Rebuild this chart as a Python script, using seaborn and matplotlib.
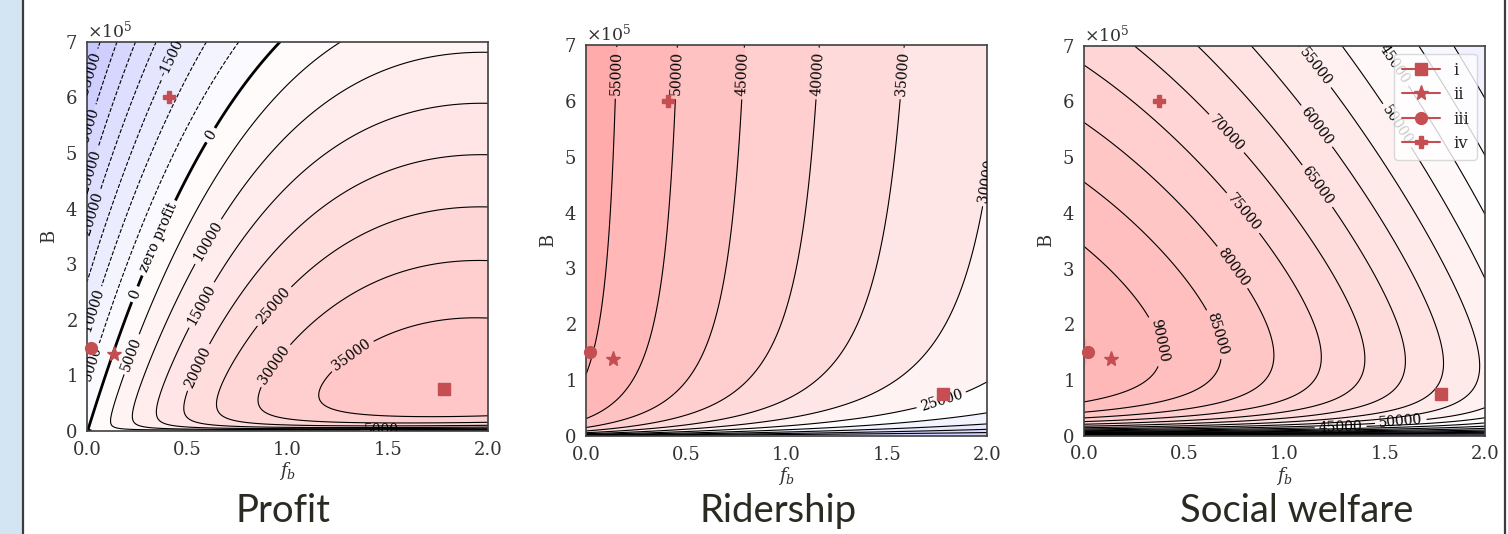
import numpy as np
import matplotlib
matplotlib.use("Agg")
import matplotlib.pyplot as plt
import seaborn as sns
from matplotlib.colors import LinearSegmentedColormap, Normalize
from matplotlib.ticker import ScalarFormatter, MultipleLocator, FormatStrFormatter
from matplotlib.patches import Rectangle
from matplotlib.lines import Line2D

sns.set_style("white")
plt.rcParams["font.family"] = ["DejaVu Serif"]
plt.rcParams["mathtext.fontset"] = "dejavuserif"
plt.rcParams["axes.edgecolor"] = "0.25"
plt.rcParams["axes.linewidth"] = 1.2

# ---------------- model parameters (B measured in units of 1e5) ----------------
# ridership
RID_SCALE = 58800
RID_FARE = 0.29
RID_WAIT = 0.0716
RID_WAIT_FARE = 1.38
RID_POW = 0.7
# operator profit
PRO_SCALE = 66930
PRO_FARE = 0.50
PRO_WAIT = 0.05
PRO_WAIT_FARE = 0.028
PRO_POW = 0.8
COST_PER_B = 5600
# social welfare
SW_BASE = 113500
SW_LIN = 11900
SW_QUAD = 5000
SW_WAIT = 0.132
SW_WAIT_FARE = 0.015
SW_POW = 0.8
SW_COST_PER_B = 5300

# ---------------- highlighted policies ----------------
point_names = ["i", "ii", "iii", "iv"]
point_markers = ["s", "*", "o", "P"]
point_sizes = [9, 11, 8.5, 8.5]
point_fb = [1.78, 0.135, 0.02, 0.41]
point_B = [0.75e5, 1.38e5, 1.5e5, 6.0e5]
point_fb_welfare = [1.78, 0.135, 0.02, 0.375]

panel_titles = ["Profit", "Ridership", "Social welfare"]
x_ticks = [0.0, 0.5, 1.0, 1.5, 2.0]

profit_lines = list(range(-35000, 35001, 5000))
ridership_lines = list(range(5000, 55001, 5000))
welfare_lines = list(range(0, 90001, 5000))

profit_fill = list(range(-40000, 40001, 5000))
ridership_fill = list(range(0, 60001, 5000))
welfare_fill = list(range(-5000, 95001, 5000))

# inline label anchors: (level, [(f_b, B), ...], text)
profit_labels = [
    (-35000, [(0.045, 6.35e5)], None),
    (-30000, [(0.04, 5.35e5)], None),
    (-25000, [(0.03, 4.6e5)], None),
    (-20000, [(0.045, 3.85e5)], None),
    (-15000, [(0.41, 6.8e5)], None),
    (-10000, [(0.05, 2.1e5)], None),
    (-5000, [(0.05, 1.15e5)], None),
    (0, [(0.23, 2.47e5), (0.59, 5.37e5)], None),
    (0, [(0.34, 3.5e5)], "zero profit"),
    (5000, [(0.21, 1.4e5), (1.47, 0.04e5)], None),
    (10000, [(0.56, 3.49e5)], None),
    (15000, [(0.54, 2.32e5)], None),
    (20000, [(0.51, 1.22e5)], None),
    (25000, [(0.9, 2.35e5)], None),
    (30000, [(0.9, 1.27e5)], None),
    (35000, [(1.3, 1.45e5)], None),
]
ridership_labels = [
    (55000, [(0.145, 6.5e5)], None),
    (50000, [(0.41, 6.5e5)], None),
    (45000, [(0.72, 6.5e5)], None),
    (40000, [(1.1, 6.5e5)], None),
    (35000, [(1.53, 6.5e5)], None),
    (30000, [(1.96, 5.5e5)], None),
    (25000, [(1.78, 0.55e5)], None),
]
welfare_labels = [
    (90000, [(0.45, 1.77e5)], None),
    (85000, [(0.69, 1.86e5)], None),
    (80000, [(0.75, 3.05e5)], None),
    (75000, [(0.80, 4.02e5)], None),
    (70000, [(0.73, 5.49e5)], None),
    (65000, [(1.14, 4.42e5)], None),
    (60000, [(1.14, 5.5e5)], None),
    (55000, [(1.13, 6.56e5)], None),
    (50000, [(1.53, 5.5e5), (1.58, 0.24e5)], None),
    (45000, [(1.5, 6.56e5), (1.28, 0.13e5)], None),
]


def ridership(f, b):
    return RID_SCALE * np.exp(-RID_FARE * f - RID_WAIT * (1 + RID_WAIT_FARE * f) * b ** (-RID_POW))


def profit(f, b):
    demand = PRO_SCALE * np.exp(-PRO_FARE * f - (PRO_WAIT + PRO_WAIT_FARE * f) * b ** (-PRO_POW))
    return f * demand - COST_PER_B * b


def welfare(f, b):
    gross = (SW_BASE - SW_LIN * f - SW_QUAD * f ** 2)
    return gross * np.exp(-(SW_WAIT + SW_WAIT_FARE * f) * b ** (-SW_POW)) - SW_COST_PER_B * b


def snap_to_level(cs, level, spot):
    """Closest vertex of the given contour level to an anchor point."""
    idx = list(cs.levels).index(float(level))
    segs = [s for s in cs.allsegs[idx] if len(s)]
    if not segs:
        return None
    pts = np.concatenate(segs)
    d = ((pts[:, 0] - spot[0]) / 2.0) ** 2 + ((pts[:, 1] - spot[1]) / 7e5) ** 2
    return tuple(pts[np.argmin(d)])


fb = np.linspace(0.0, 2.0, 401)
b_units = np.unique(np.concatenate([np.geomspace(0.004, 1.0, 500),
                                    np.linspace(0.0, 7.0, 701)[1:]]))
F, BU = np.meshgrid(fb, b_units)
BG = BU * 1e5

# pale blue-white-red palette
base = plt.get_cmap("bwr")(np.linspace(0, 1, 256))[:, :3]
soft = LinearSegmentedColormap.from_list("soft_bwr", 1 - 0.35 * (1 - base))

red = sns.color_palette("deep")[3]

fig = plt.figure(figsize=(15.08, 5.34), dpi=100)

# slide decorations
fig.patches.append(Rectangle((0, 0), 22 / 1508, 1, transform=fig.transFigure,
                             facecolor="#d3e5f2", edgecolor="none", zorder=-5))
fig.lines.append(Line2D([23 / 1508, 23 / 1508], [0, 1], transform=fig.transFigure,
                        color="#3c3c3c", lw=1.6))
fig.lines.append(Line2D([1505 / 1508, 1505 / 1508], [0, 1], transform=fig.transFigure,
                        color="#3c3c3c", lw=1.6))

rects = [
    [87 / 1508, 103 / 534, 401 / 1508, 389.3 / 534],
    [586 / 1508, 98 / 534, 401 / 1508, 391 / 534],
    [1084 / 1508, 98.3 / 534, 401 / 1508, 390 / 534],
]
title_x = [283 / 1508, 778 / 1508, 1297 / 1508]

panels = [
    (profit(F, BU), profit_lines, profit_fill, Normalize(-60000, 60000), profit_labels, point_fb),
    (ridership(F, BU), ridership_lines, ridership_fill, Normalize(-15800, 59800), ridership_labels, point_fb),
    (welfare(F, BU), welfare_lines, welfare_fill, Normalize(-19300, 105300), welfare_labels, point_fb_welfare),
]

for k, (Z, lines, fills, norm, labels, pts_f) in enumerate(panels):
    ax = fig.add_axes(rects[k])
    ax.contourf(F, BG, Z, levels=fills, cmap=soft, norm=norm, extend="both")
    widths = [2.0 if (k == 0 and lev == 0) else 0.8 for lev in lines]
    cs = ax.contour(F, BG, Z, levels=lines, colors="k", linewidths=widths)
    for lev, spots, text in labels:
        fmt = (lambda v, t=text: t) if text else (lambda v: f"{v:.0f}")
        snapped = [p for p in (snap_to_level(cs, lev, s) for s in spots) if p is not None]
        if snapped:
            ax.clabel(cs, manual=snapped, fmt=fmt, inline=True,
                      inline_spacing=4, fontsize=10)

    for name, mk, ms, xf, yb in zip(point_names, point_markers, point_sizes, pts_f, point_B):
        ax.plot([xf], [yb], marker=mk, ms=ms, color=red, ls="-", lw=1.5,
                label=name, zorder=6, clip_on=False)

    ax.set_xlim(0, 2)
    ax.set_ylim(0, 7e5)
    ax.set_xticks(x_ticks)
    ax.xaxis.set_major_formatter(FormatStrFormatter("%.1f"))
    ax.yaxis.set_major_locator(MultipleLocator(1e5))
    sf = ScalarFormatter(useMathText=True)
    sf.set_powerlimits((0, 0))
    ax.yaxis.set_major_formatter(sf)
    ax.yaxis.get_offset_text().set_fontsize(12.5)
    ax.yaxis.get_offset_text().set_color("0.2")
    ax.tick_params(labelsize=13, colors="0.2")
    ax.set_xlabel("$f_b$", fontsize=13, color="0.2", labelpad=1)
    ax.set_ylabel("B", fontsize=13, color="0.2", labelpad=5)

    if k == 2:
        ax.legend(loc="upper right", fontsize=12, frameon=True, framealpha=0.8,
                  edgecolor="0.82", handlelength=2.3, labelspacing=0.45,
                  borderpad=0.45)

    fig.text(title_x[k], 12 / 534, panel_titles[k], ha="center", va="baseline",
             fontsize=27.5, family=["Lato", "DejaVu Sans"], color="#2b2a22")

fig.savefig("out.png", dpi=100)
